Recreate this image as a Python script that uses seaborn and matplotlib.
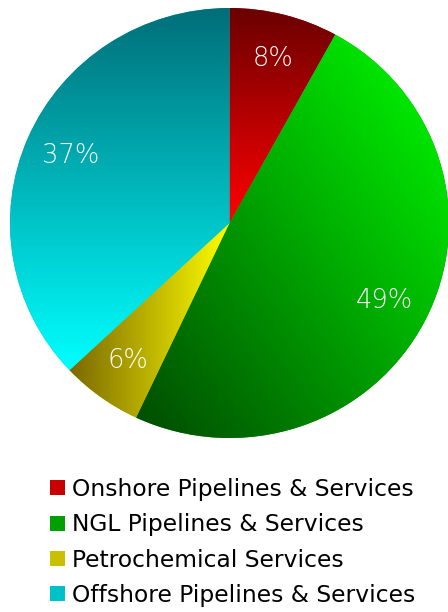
import numpy as np
import matplotlib
matplotlib.use("Agg")
import matplotlib.pyplot as plt
import seaborn as sns
from matplotlib.patches import Patch

# ---- data ----
categories = ["Onshore Pipelines & Services", "NGL Pipelines & Services",
              "Petrochemical Services", "Offshore Pipelines & Services"]
shares = [8, 49, 6, 37]
pct_labels = ["8%", "49%", "6%", "37%"]
dark_colors = ["#6a0000", "#004a00", "#7a6800", "#006e78"]
bright_colors = ["#ff0000", "#00ff00", "#ffff00", "#00ffff"]
legend_colors = ["#c80000", "#00a000", "#c8c000", "#00c0c8"]
gradient_angles = [-90, 45, 0, -90]  # direction dark -> bright (degrees)

sns.set_theme(style="white")
plt.rcParams['font.family'] = ['DejaVu Sans']

fig = plt.figure(figsize=(4.48, 6.12), dpi=100)
fig.patch.set_facecolor("white")
ax = fig.add_axes([10 / 448, 174 / 612, 439 / 448, 430 / 612])

wedges, _ = ax.pie(shares, startangle=90, counterclock=False, radius=1,
                   colors=legend_colors, wedgeprops=dict(linewidth=0))

n = 256
yy, xx = np.mgrid[0:1:n * 1j, 0:1:n * 1j]
for w, dc, bc, ang in zip(wedges, dark_colors, bright_colors, gradient_angles):
    ext = w.get_path().get_extents()
    th = np.deg2rad(ang)
    t = xx * np.cos(th) + yy * np.sin(th)
    t = (t - t.min()) / (t.max() - t.min())
    cmap = sns.blend_palette([dc, bc], as_cmap=True)
    im = ax.imshow(t, cmap=cmap, extent=(ext.x0, ext.x1, ext.y0, ext.y1),
                   origin='lower', aspect='auto', interpolation='bilinear',
                   zorder=w.get_zorder() + 0.1)
    im.set_clip_path(w)

for w, lab in zip(wedges, pct_labels):
    mid = np.deg2rad((w.theta1 + w.theta2) / 2)
    ax.text(0.79 * np.cos(mid), 0.79 * np.sin(mid), lab, color="white",
            fontsize=18.5, fontweight="light", ha="center", va="center",
            zorder=5)

ax.set_aspect('auto')
ax.set_xlim(-1, 1)
ax.set_ylim(-1, 1)
ax.axis('off')

handles = [Patch(facecolor=c, edgecolor="none") for c in legend_colors]
fig.legend(handles, categories, loc="upper left",
           bbox_to_anchor=(50 / 448, (612 - 478) / 612),
           bbox_transform=fig.transFigure, frameon=False, fontsize=16.8,
           handlelength=0.63, handleheight=0.6, handletextpad=0.32,
           labelspacing=0.53, borderpad=0, borderaxespad=0, labelcolor="black")

fig.savefig("out.png", dpi=100, facecolor="white")
